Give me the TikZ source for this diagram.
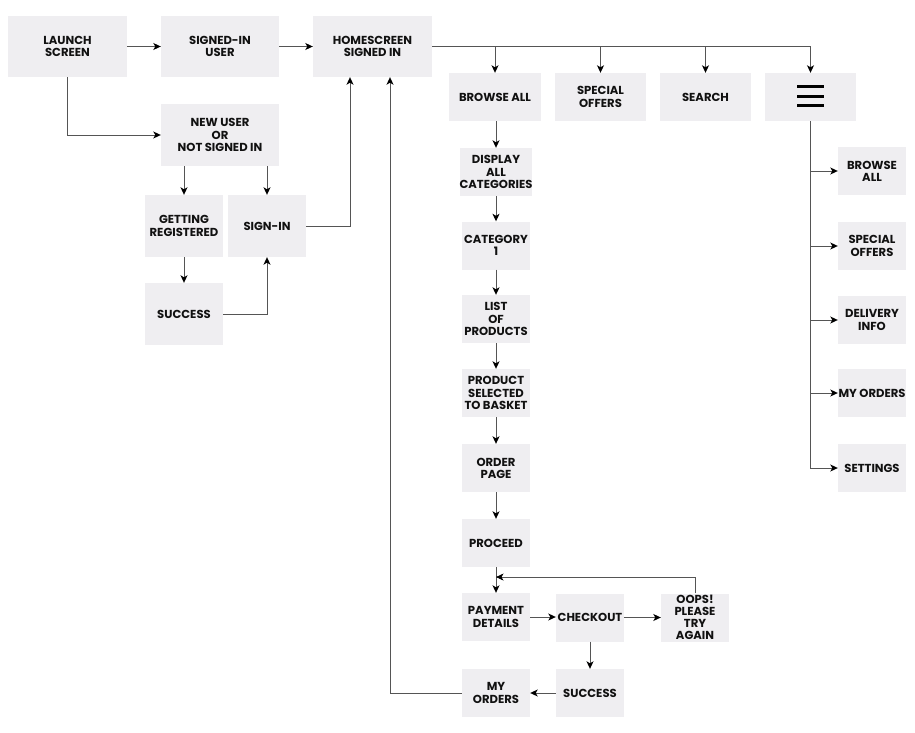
\documentclass[tikz,border=0pt]{standalone}
\usepackage{fontspec}
\setmainfont{Poppins}
\usetikzlibrary{arrows.meta,calc}
\definecolor{boxgray}{HTML}{EFEEF1}
\definecolor{linegray}{HTML}{555555}
\definecolor{txt}{HTML}{111111}
\tikzset{
  box/.style n args={2}{fill=boxgray, draw=none, rectangle, inner sep=0pt,
    minimum width=#1, minimum height=#2, align=center, text=txt,
    font=\fontsize{11.6}{12.2}\selectfont\bfseries},
  conn/.style={draw=linegray, line width=0.9pt},
  arr/.style={conn, -{Stealth[length=7.5pt,width=7pt,inset=2pt,color=black]}},
}
\begin{document}
\begin{tikzpicture}[x=1pt,y=-1pt]
\useasboundingbox (0,0) rectangle (915,733);
% top row
\node[box={119pt}{61pt}] (launch) at (67.5,46.5) {LAUNCH\\SCREEN};
\node[box={118pt}{61pt}] (signed) at (220,46.5) {SIGNED-IN\\USER};
\node[box={119pt}{61pt}] (home) at (372.5,46.5) {HOMESCREEN\\SIGNED IN};
\node[box={118pt}{62pt}] (newuser) at (220,135) {NEW USER\\OR\\NOT SIGNED IN};
\node[box={78pt}{62pt}] (getting) at (184,226) {GETTING\\REGISTERED};
\node[box={78pt}{62pt}] (signin) at (267,226) {SIGN-IN};
\node[box={78pt}{62pt}] (success1) at (184,314) {SUCCESS};
% second row
\node[box={92pt}{48pt}] (browse) at (495,97) {BROWSE ALL};
\node[box={91pt}{48pt}] (special) at (600.5,97) {SPECIAL\\OFFERS};
\node[box={91pt}{48pt}] (search) at (705.5,97) {SEARCH};
\node[box={91pt}{48pt}] (menu) at (810.5,97) {};
\foreach \dy/\nm in {-10/ha,0/hb,9/hc}{
  \coordinate (\nm) at ($(menu.center)+(-13.5,\dy)$);
  \draw[line width=3pt, black] (\nm) -- ++(27,0);
}
% column
\node[box={68pt}{48pt}] (display) at (496,172) {DISPLAY\\ALL\\CATEGORIES};
\node[box={68pt}{48pt}] (cat1) at (496,245.5) {CATEGORY\\1};
\node[box={68pt}{48pt}] (list) at (496,319) {LIST\\OF\\PRODUCTS};
\node[box={68pt}{48pt}] (product) at (496,393) {PRODUCT\\SELECTED\\TO BASKET};
\node[box={68pt}{48pt}] (order) at (496,468) {ORDER\\PAGE};
\node[box={68pt}{48pt}] (proceed) at (496,543) {PROCEED};
\node[box={68pt}{48pt}] (payment) at (496,617) {PAYMENT\\DETAILS};
\node[box={68pt}{48pt}] (checkout) at (590,617.5) {CHECKOUT};
\node[box={68pt}{48pt}] (oops) at (695,617.5) {OOPS!\\PLEASE\\TRY\\AGAIN};
\node[box={68pt}{48pt}] (success2) at (590,693) {SUCCESS};
\node[box={68pt}{48pt}] (myorders) at (496,693) {MY\\ORDERS};
% right column
\node[box={68pt}{48pt}] (rbrowse) at (872,171) {BROWSE\\ALL};
\node[box={68pt}{48pt}] (rspecial) at (872,246) {SPECIAL\\OFFERS};
\node[box={68pt}{48pt}] (rdelivery) at (872,320) {DELIVERY\\INFO};
\node[box={68pt}{48pt}] (rmyorders) at (872,393) {MY ORDERS};
\node[box={68pt}{48pt}] (rsettings) at (872,468) {SETTINGS};
% coordinates
\coordinate (hin1) at ($(home.south)+(-22.5,0)$);
\coordinate (hin2) at ($(home.south)+(17.5,0)$);
\coordinate (retry) at ($(proceed.south)!0.385!(payment.north)$);
% connectors top-left
\draw[arr] (launch.east) -- (signed.west);
\draw[arr] (signed.east) -- (home.west);
\draw[arr] (launch.south) |- (newuser.west);
\draw[arr] (getting.north |- newuser.south) -- (getting.north);
\draw[arr] (signin.north |- newuser.south) -- (signin.north);
\draw[arr] (getting.south) -- (success1.north);
\draw[arr] (success1.east) -| (signin.south);
\draw[arr] (signin.east) -| (hin1);
\draw[arr] (myorders.west) -| (hin2);
% top branches
\draw[arr] (home.east) -| (menu.north);
\draw[arr] (browse.north |- home.east) -- (browse.north);
\draw[arr] (special.north |- home.east) -- (special.north);
\draw[arr] (search.north |- home.east) -- (search.north);
% browse column
\draw[arr] (display.north |- browse.south) -- (display.north);
\draw[arr] (display.south) -- (cat1.north);
\draw[arr] (cat1.south) -- (list.north);
\draw[arr] (list.south) -- (product.north);
\draw[arr] (product.south) -- (order.north);
\draw[arr] (order.south) -- (proceed.north);
\draw[arr] (proceed.south) -- (payment.north);
\draw[arr] (oops.north) |- (retry);
\draw[arr] (payment.east) -- (payment.east -| checkout.west);
\draw[arr] (checkout.east) -- (oops.west);
\draw[arr] (checkout.south) -- (success2.north);
\draw[arr] (success2.west) -- (myorders.east);
% menu column
\draw[arr] (menu.south) |- (rsettings.west);
\draw[arr] (menu.south |- rbrowse.west) -- (rbrowse.west);
\draw[arr] (menu.south |- rspecial.west) -- (rspecial.west);
\draw[arr] (menu.south |- rdelivery.west) -- (rdelivery.west);
\draw[arr] (menu.south |- rmyorders.west) -- (rmyorders.west);
\end{tikzpicture}
\end{document}
